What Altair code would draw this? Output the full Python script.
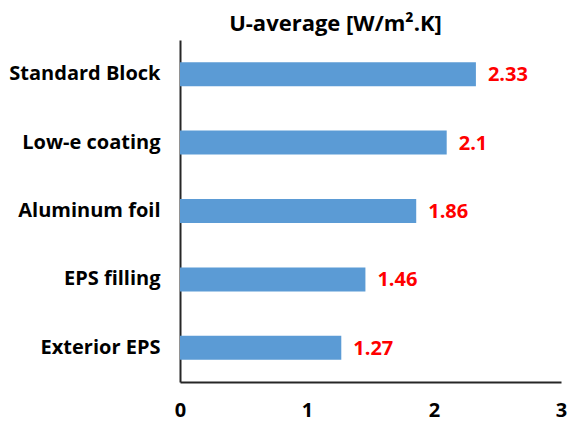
import altair as alt
import pandas as pd

# U-values per wall configuration
categories = ["Standard Block", "Low-e coating", "Aluminum foil", "EPS filling", "Exterior EPS"]
u_values = [2.33, 2.1, 1.86, 1.46, 1.27]
x_ticks = [0, 1, 2, 3]

df = pd.DataFrame({"config": categories, "u": u_values})
df["label"] = [f"{v:g}" for v in u_values]

FONT = "Open Sans"

y_enc = alt.Y(
    "config:N",
    sort=categories,
    title=None,
    scale=alt.Scale(paddingInner=0.0, paddingOuter=0.0),
    axis=alt.Axis(
        ticks=False,
        labelPadding=20,
        labelFontSize=20,
        labelFontWeight="bold",
        labelFont=FONT,
        labelColor="#000000",
        domainColor="#262626",
        domainWidth=2,
        grid=False,
    ),
)

x_enc = alt.X(
    "u:Q",
    title=None,
    scale=alt.Scale(domain=[0, 3], nice=False),
    axis=alt.Axis(
        values=x_ticks,
        format="d",
        ticks=False,
        labelPadding=18,
        labelFontSize=20,
        labelFontWeight="bold",
        labelFont=FONT,
        labelColor="#000000",
        domainColor="#262626",
        domainWidth=2,
        grid=False,
        labelFlush=False,
    ),
)

bars = alt.Chart(df).mark_bar(size=24, color="#5B9BD5").encode(x=x_enc, y=y_enc)

labels = alt.Chart(df).mark_text(
    align="left",
    baseline="middle",
    dx=12,
    dy=1,
    fontSize=20,
    fontWeight="bold",
    font=FONT,
    color="#FF0000",
).encode(x="u:Q", y=alt.Y("config:N", sort=categories), text="label:N")

chart = (
    alt.layer(bars, labels)
    .properties(
        width=381,
        height=342,
        autosize="none",
        padding={"left": 180, "top": 40, "right": 6, "bottom": 46},
        title=alt.TitleParams(
            text="U-average [W/m².K]",
            font=FONT,
            fontSize=22,
            fontWeight="bold",
            color="#000000",
            anchor="middle",
            dx=-35,
            offset=4,
        ),
    )
    .configure_view(stroke=None)
)

chart.save("out.html", embed_options={"renderer": "svg", "actions": False})
